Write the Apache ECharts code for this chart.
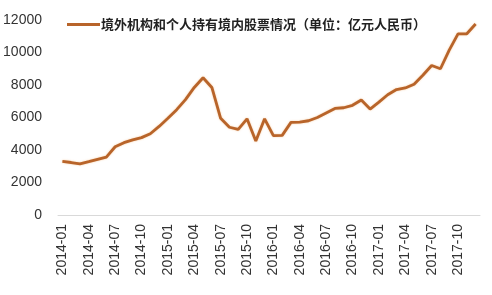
<!DOCTYPE html>
<html>
<head>
<meta charset="utf-8">
<script src="https://cdn.jsdelivr.net/npm/echarts@6/dist/echarts.min.js"></script>
<style>
html,body{margin:0;padding:0;background:#fff;}
#chart{width:492px;height:295px;}
</style>
</head>
<body>
<div id="chart"></div>
<script>
const seriesName = '境外机构和个人持有境内股票情况（单位：亿元人民币）';
const categories = [
  '2014-01','2014-02','2014-03','2014-04','2014-05','2014-06','2014-07','2014-08','2014-09','2014-10','2014-11','2014-12',
  '2015-01','2015-02','2015-03','2015-04','2015-05','2015-06','2015-07','2015-08','2015-09','2015-10','2015-11','2015-12',
  '2016-01','2016-02','2016-03','2016-04','2016-05','2016-06','2016-07','2016-08','2016-09','2016-10','2016-11','2016-12',
  '2017-01','2017-02','2017-03','2017-04','2017-05','2017-06','2017-07','2017-08','2017-09','2017-10','2017-11','2017-12'
];
const values = [
  3300,3230,3150,3280,3420,3560,4200,4450,4620,4760,5000,5450,
  5950,6480,7100,7850,8450,7850,5950,5400,5270,5920,4550,5920,
  4880,4900,5700,5720,5800,6000,6280,6560,6600,6750,7080,6520,
  6950,7400,7720,7820,8050,8600,9200,9000,10150,11150,11150,11750
];
const yTicks = [0,2000,4000,6000,8000,10000,12000];

const chart = echarts.init(document.getElementById('chart'), null, {renderer:'canvas'});
chart.setOption({
  animation:false,
  backgroundColor:'#fff',
  textStyle:{fontFamily:'"Noto Sans CJK SC","Noto Sans",sans-serif'},
  legend:{
    left:62, top:13,
    icon:'rect', itemWidth:33, itemHeight:3, itemGap:10,
    textStyle:{fontSize:13, fontWeight:'bold', color:'#222', padding:[0,0,0,-4]},
    data:[seriesName]
  },
  grid:{left:58, right:12, top:20, bottom:80},
  xAxis:{
    type:'category',
    data:categories,
    boundaryGap:true,
    axisLine:{lineStyle:{color:'#d9d9d9'}},
    axisTick:{interval:2, length:5, lineStyle:{color:'#d9d9d9'}},
    axisLabel:{interval:2, rotate:90, fontSize:14, color:'#333', margin:9,
      fontFamily:'"Liberation Sans",Arial,sans-serif'}
  },
  yAxis:{
    type:'value',
    min:yTicks[0], max:yTicks[yTicks.length-1], interval:2000,
    axisLine:{show:false}, axisTick:{show:false},
    splitLine:{show:false},
    axisLabel:{fontSize:14, color:'#333', margin:16,
      fontFamily:'"Liberation Sans",Arial,sans-serif',
      formatter:function(v){return String(v);}}
  },
  series:[{
    name:seriesName,
    type:'line',
    data:values,
    symbol:'none',
    lineStyle:{color:'#B8642A', width:2.8, shadowColor:'rgba(240,170,100,0.6)', shadowBlur:2},
    itemStyle:{color:'#B8642A'}
  }]
});
</script>
</body>
</html>
